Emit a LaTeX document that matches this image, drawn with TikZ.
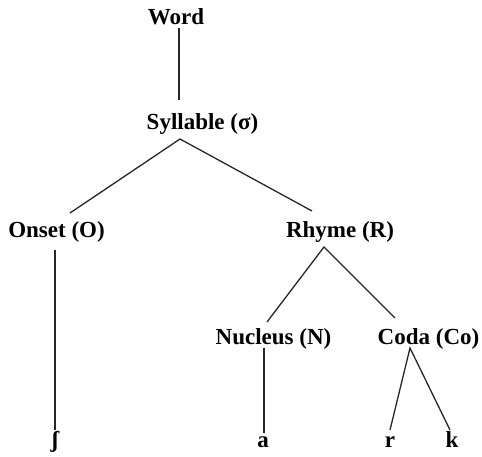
\documentclass[tikz,border=0pt]{standalone}
\usepackage{fontspec}
\setmainfont{Liberation Serif}
\usetikzlibrary{calc}
\begin{document}
\begin{tikzpicture}[x=1pt,y=-1pt,
  lbl/.style={anchor=base,inner sep=0pt,font=\fontsize{23}{26}\selectfont\bfseries},
  branch/.style={draw=black!85,line width=1.3pt}]
\useasboundingbox (0,0) rectangle (482,457);
% tree labels (placed on their baselines)
\node[lbl] (word) at (176,25) {Word};
\node[lbl] (syl)  at (202.5,130) {Syllable (σ)};
\node[lbl] (ons)  at (56.5,237) {Onset (O)};
\node[lbl] (rhy)  at (340,237) {Rhyme (R)};
\node[lbl] (nuc)  at (273.5,344) {Nucleus (N)};
\node[lbl] (cod)  at (428.5,344) {Coda (Co)};
\node[lbl] (esh)  at (55,447) {ʃ};
\node[lbl] (a)    at (263,447) {a};
\node[lbl] (r)    at (390,447) {r};
\node[lbl] (k)    at (452,447) {k};
% branches
\draw[branch] ($(word.base)+(3,3)$) -- ($(syl.base)+(-23.5,-30)$);
\draw[branch] ($(ons.base)+(13.5,-24)$) -- ($(syl.base)+(-22.5,9)$) -- ($(rhy.base)+(-28,-26)$);
\draw[branch] ($(ons.base)+(-1.5,13)$) -- ($(esh.base)+(0,-17)$);
\draw[branch] ($(nuc.base)+(-6.5,-22)$) -- ($(rhy.base)+(-16,10)$) -- ($(cod.base)+(-33.5,-26)$);
\draw[branch] ($(nuc.base)+(-9.5,4)$) -- ($(a.base)+(1,-14)$);
\draw[branch] ($(r.base)+(0,-17)$) -- ($(cod.base)+(-18.5,4)$) -- ($(k.base)+(-2,-17)$);
\end{tikzpicture}
\end{document}
